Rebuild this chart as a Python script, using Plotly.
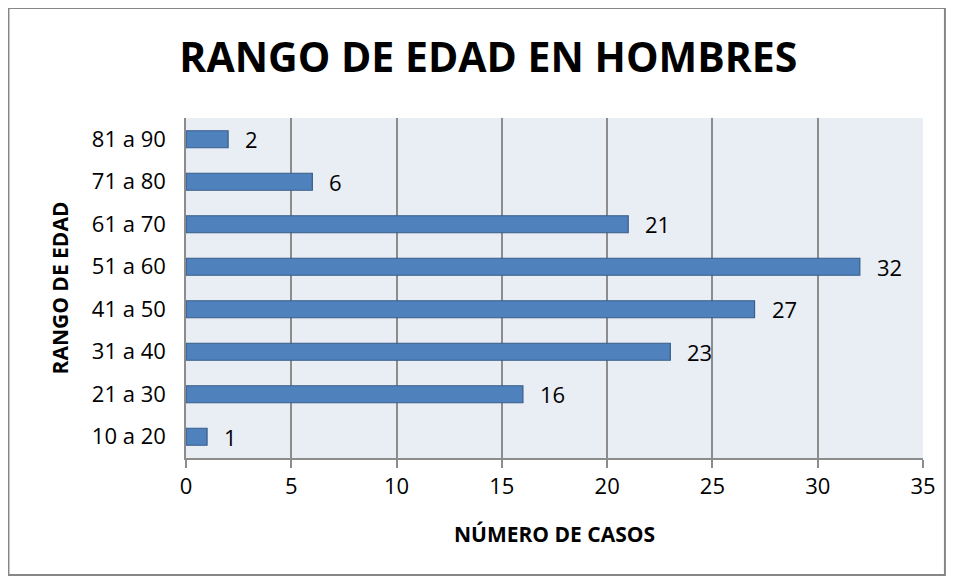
import plotly.graph_objects as go

rangos = ["10 a 20", "21 a 30", "31 a 40", "41 a 50", "51 a 60", "61 a 70", "71 a 80", "81 a 90"]
casos = [1, 16, 23, 27, 32, 21, 6, 2]
x_ticks = [0, 5, 10, 15, 20, 25, 30, 35]

font_family = "Open Sans, Noto Sans, sans-serif"

fig = go.Figure()
fig.add_trace(
    go.Bar(
        x=casos,
        y=rangos,
        orientation="h",
        marker=dict(color="#4F81BD", line=dict(color="#385D8A", width=1.2)),
        width=0.4,
        hoverinfo="skip",
        showlegend=False,
    )
)

# value labels, placed right of each bar
for r, v in zip(rangos, casos):
    fig.add_annotation(
        x=v, y=r, text=str(v), showarrow=False,
        xanchor="left", xshift=15,
        font=dict(size=22, color="black", family=font_family),
    )

# outer chart border (page body margin puts the figure at 8px offset)
fig.add_shape(
    type="rect", xref="paper", yref="paper",
    x0=-178 / 739, x1=1 + 22 / 739, y0=-117 / 340, y1=1 + 110 / 340,
    line=dict(color="#878787", width=2), fillcolor="rgba(0,0,0,0)",
    layer="below",
)

fig.update_layout(
    width=940,
    height=568,
    paper_bgcolor="white",
    plot_bgcolor="#E9EDF4",
    margin=dict(l=178, r=23, t=110, b=118),
    title=dict(
        text="<b>RANGO DE EDAD EN HOMBRES</b>",
        x=0.511, xref="container", xanchor="center",
        y=0.912, yref="container", yanchor="middle",
        font=dict(size=41, color="black", family=font_family),
    ),
    font=dict(family=font_family, color="black"),
)
fig.update_xaxes(
    range=[0, 35],
    tickvals=x_ticks,
    showgrid=True, gridcolor="#8C8C8C", gridwidth=1.5,
    showline=True, linecolor="#8C8C8C", linewidth=1.5,
    ticks="outside", ticklen=8, tickcolor="#8C8C8C", tickwidth=1.5,
    tickfont=dict(size=22),
    zeroline=False,
    title=dict(text="<b>NÚMERO DE CASOS</b>", font=dict(size=21), standoff=28),
)
fig.update_yaxes(
    categoryorder="array", categoryarray=rangos,
    showgrid=False,
    showline=True, linecolor="#8C8C8C", linewidth=1.5,
    ticks="outside", ticklen=14, tickcolor="rgba(0,0,0,0)",
    tickfont=dict(size=22),
    title=dict(text="<b>RANGO DE EDAD</b>", font=dict(size=21), standoff=18),
)

fig.write_html("out.html")
